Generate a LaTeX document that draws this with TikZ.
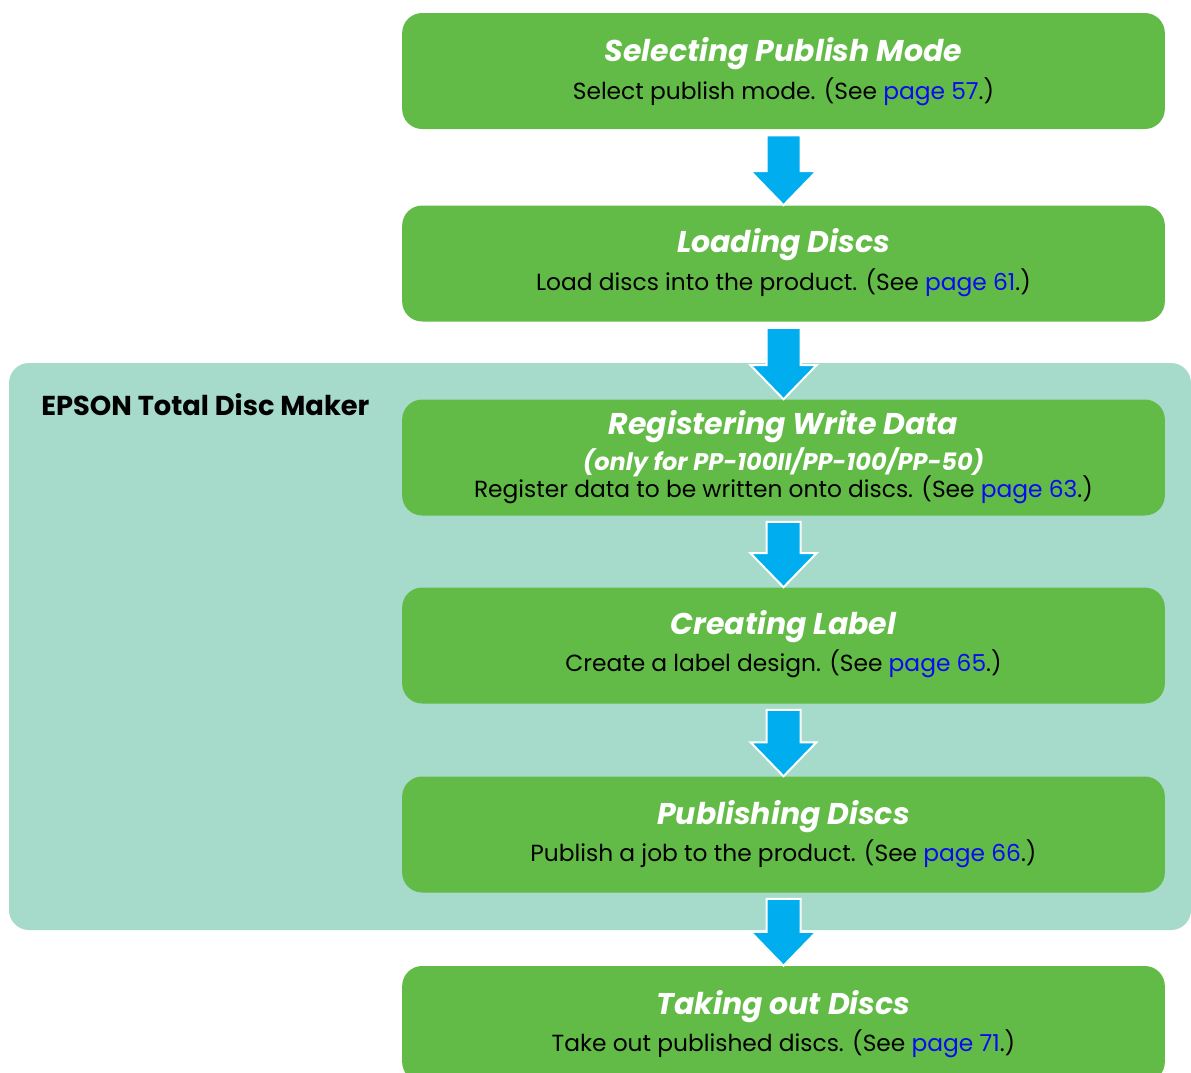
\documentclass[tikz,border=0pt]{standalone}
\usepackage{fontspec}
\setmainfont{Poppins}
\usetikzlibrary{calc}
\definecolor{boxgreen}{RGB}{98,187,70}
\definecolor{panelteal}{RGB}{166,218,203}
\definecolor{arrowblue}{RGB}{0,174,239}
\definecolor{linkblue}{RGB}{10,10,240}
\newcommand{\lnk}[1]{\textcolor{linkblue}{#1}}
\newcommand{\flowarrow}[2]{%
  \fill[arrowblue,draw=white,line width=1.5pt,line join=miter]
    ($(#1.south)+(-17,6)$) -- ($(#1.south)+(17,6)$) --
    ($(#2.north)+(17,-34)$) -- ($(#2.north)+(33,-34)$) --
    (#2.north) --
    ($(#2.north)+(-33,-34)$) -- ($(#2.north)+(-17,-34)$) -- cycle;}
\begin{document}
\begin{tikzpicture}[x=0.75pt,y=-0.75pt,
  stepbox/.style={fill=boxgreen,rounded corners=15pt,minimum width=572pt,minimum height=87pt,inner sep=0pt},
  steptitle/.style={anchor=base,text=white,font=\fontsize{22.5}{26}\selectfont\bfseries\itshape,inner sep=0pt},
  stepsub/.style={anchor=base,text=black,font=\fontsize{17.5}{20}\selectfont,inner sep=0pt},
  paneltitle/.style={anchor=base west,text=black,font=\fontsize{20.5}{24}\selectfont\bfseries,inner sep=0pt}]
\useasboundingbox (0,0) rectangle (1191,1072);
\clip (0,0) rectangle (1191,1072);
\fill[panelteal,rounded corners=15pt] (9,363) rectangle (1191,930);
\node[paneltitle] (pt) at (41,415) {EPSON Total Disc Maker};
\node[stepbox] (s1) at (783.5,71) {};
\node[stepbox] (s2) at (783.5,263.5) {};
\node[stepbox] (s3) at (783.5,457.5) {};
\node[stepbox] (s4) at (783.5,645.5) {};
\node[stepbox] (s5) at (783.5,834.5) {};
\node[stepbox] (s6) at (783.5,1024) {};
\node[steptitle] (t1) at (783.5,61) {Selecting Publish Mode};
\node[stepsub] (d1) at (783.5,99) {Select publish mode. (See \lnk{page 57}.)};
\node[steptitle] (t2) at (783.5,252) {Loading Discs};
\node[stepsub] (d2) at (783.5,290) {Load discs into the product. (See \lnk{page 61}.)};
\node[steptitle] (t3) at (783.5,434) {Registering Write Data};
\node[steptitle,font=\fontsize{18}{22}\selectfont\bfseries\itshape] (t3b) at (783.5,470) {(only for PP-100II/PP-100/PP-50)};
\node[stepsub] (d3) at (783.5,497) {Register data to be written onto discs. (See \lnk{page 63}.)};
\node[steptitle] (t4) at (783.5,634) {Creating Label};
\node[stepsub] (d4) at (783.5,671) {Create a label design. (See \lnk{page 65}.)};
\node[steptitle] (t5) at (783.5,824) {Publishing Discs};
\node[stepsub] (d5) at (783.5,861) {Publish a job to the product. (See \lnk{page 66}.)};
\node[steptitle] (t6) at (783.5,1014) {Taking out Discs};
\node[stepsub] (d6) at (783.5,1051) {Take out published discs. (See \lnk{page 71}.)};
\flowarrow{s1}{s2}
\flowarrow{s2}{s3}
\flowarrow{s3}{s4}
\flowarrow{s4}{s5}
\flowarrow{s5}{s6}
\end{tikzpicture}
\end{document}
